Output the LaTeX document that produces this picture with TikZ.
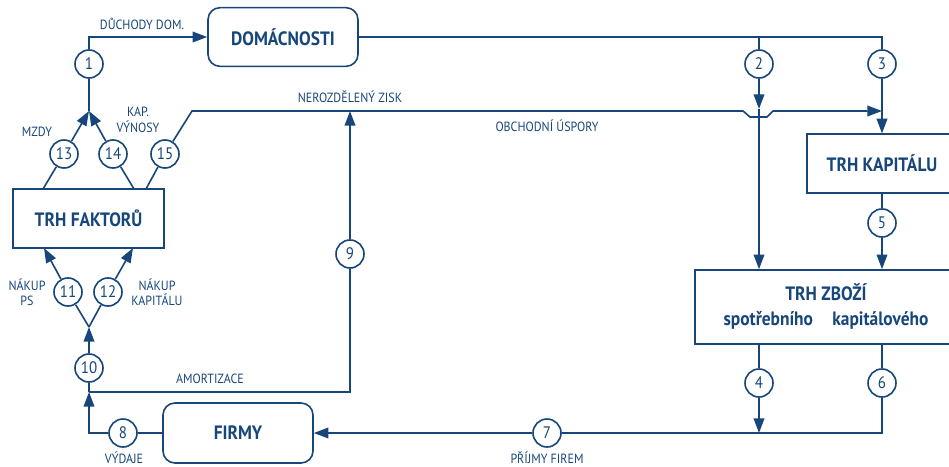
\documentclass[tikz,border=0pt]{standalone}
\usepackage{fontspec}
\setmainfont{PT Sans}[FakeStretch=0.9]
\usetikzlibrary{arrows.meta}
\definecolor{flowblue}{RGB}{22,70,122}

\tikzset{
  market/.style={rectangle, draw, line width=1.2pt, font=\bfseries\fontsize{14.5}{16}\selectfont, minimum height=44pt},
  agent/.style={market, rounded corners=9pt, minimum width=112.5pt},
  num/.style={circle, draw, fill=white, line width=1.2pt, minimum size=21pt, inner sep=0pt, font=\fontsize{12.5}{14}\selectfont},
  lbl/.style={font=\fontsize{10}{11.5}\selectfont, align=center, inner sep=0pt},
  flow/.style={-{Triangle[length=11pt, width=8pt]}},
}

\begin{document}
\begin{tikzpicture}[x=0.75pt, y=-0.75pt, line width=1.2pt, color=flowblue, text=flowblue]
    \useasboundingbox (0,0) rectangle (949,467);

    % sectors and markets
    \node[agent] (dom) at (283,37) {DOMÁCNOSTI};
    \node[agent, minimum height=45pt] (firmy) at (238,433) {FIRMY};
    \node[market, minimum width=113pt] (faktor) at (88.5,218.5) {TRH FAKTORŮ};
    \node[market, minimum width=112.5pt] (kapital) at (882,163.5) {TRH KAPITÁLU};
    \node[market, minimum width=196.5pt, minimum height=55.5pt, align=center, font=\bfseries\fontsize{14.5}{18.75}\selectfont] (zbozi) at (826,307) {TRH ZBOŽÍ\\spotřebního\quad kapitálového};

    % numbered flows
    \node[num] (n1) at (89,64) {1};
    \node[num] (n2) at (759,64) {2};
    \node[num] (n3) at (882,64) {3};
    \node[num] (n4) at (759,383) {4};
    \node[num] (n5) at (882,223) {5};
    \node[num] (n6) at (882,383) {6};
    \node[num] (n7) at (547,433) {7};
    \node[num] (n8) at (123,433) {8};
    \node[num] (n9) at (350,254) {9};
    \node[num] (n10) at (89,368) {10};
    \node[num] (n11) at (68,292) {11};
    \node[num] (n12) at (108,292) {12};
    \node[num] (n13) at (64,154) {13};
    \node[num] (n14) at (113,154) {14};
    \node[num] (n15) at (165,154) {15};

    % junctions and bends
    \coordinate (m1) at (89,111);
    \coordinate (m2) at (89,327);
    \coordinate (j10) at (89,392);
    \coordinate (j4) at (759,433);
    \coordinate (f13) at (43,189);
    \coordinate (f14) at (134,189);
    \coordinate (f15) at (146,189);
    \coordinate (b11) at (44,248);
    \coordinate (b12) at (133,248);
    \coordinate (s15) at (192,111);
    \coordinate (u1) at (743,111);
    \coordinate (u2) at (750,117);
    \coordinate (u3) at (767,117);
    \coordinate (u4) at (773,111);
    \coordinate (t3) at (882,111);
    \coordinate (a2) at (759,109);

    % factor market to households
    \draw[flow] (n1) |- (dom);
    \draw (n1) -- (m1);
    \draw[flow] (n13) -- (m1);
    \draw[flow] (n14) -- (m1);
    \draw (f13) -- (n13);
    \draw (f14) -- (n14);
    \draw (f15) -- (n15);
    \draw[flow] (n15) -- (s15) -- (u1) -- (u2) -- (u3) -- (u4) -- (t3);

    % households to markets
    \draw (dom) -| (n3);
    \draw (n2) -- (n2 |- dom.east);
    \draw[flow] (n2) -- (a2);
    \draw[flow] (a2) -- (n2 |- zbozi.north);
    \draw[flow] (n3) -- (kapital);
    \draw (kapital) -- (n5);
    \draw[flow] (n5) -- (n5 |- zbozi.north);

    % goods market to firms
    \draw (n4 |- zbozi.south) -- (n4);
    \draw[flow] (n4) -- (j4);
    \draw (n6 |- zbozi.south) -- (n6);
    \draw (n6) |- (n7);
    \draw[flow] (n7) -- (firmy);

    % firms to factor market
    \draw (firmy) -- (n8);
    \draw[flow] (n8) -| (j10);
    \draw (n9) |- (j10);
    \draw[flow] (n9) -- (n9 |- t3);
    \draw (j10) -- (n10);
    \draw[flow] (n10) -- (m2);
    \draw (m2) -- (n11);
    \draw (m2) -- (n12);
    \draw[flow] (n11) -- (b11);
    \draw[flow] (n12) -- (b12);

    % labels
    \node[lbl] (duchody) at (142,24) {DŮCHODY DOM.};
    \node[lbl] (mzdy) at (37,132) {MZDY};
    \node[lbl] (vynosy) at (138,120) {KAP.\\VÝNOSY};
    \node[lbl] (zisk) at (350,97) {NEROZDĚLENÝ ZISK};
    \node[lbl] (uspory) at (547,126) {OBCHODNÍ ÚSPORY};
    \node[lbl] (nakps) at (27,292) {NÁKUP\\PS};
    \node[lbl] (nakkap) at (157,292) {NÁKUP\\KAPITÁLU};
    \node[lbl] (amort) at (210,379) {AMORTIZACE};
    \node[lbl] (vydaje) at (124,458) {VÝDAJE};
    \node[lbl] (prijmy) at (547,458) {PŘÍJMY FIREM};
\end{tikzpicture}
\end{document}
